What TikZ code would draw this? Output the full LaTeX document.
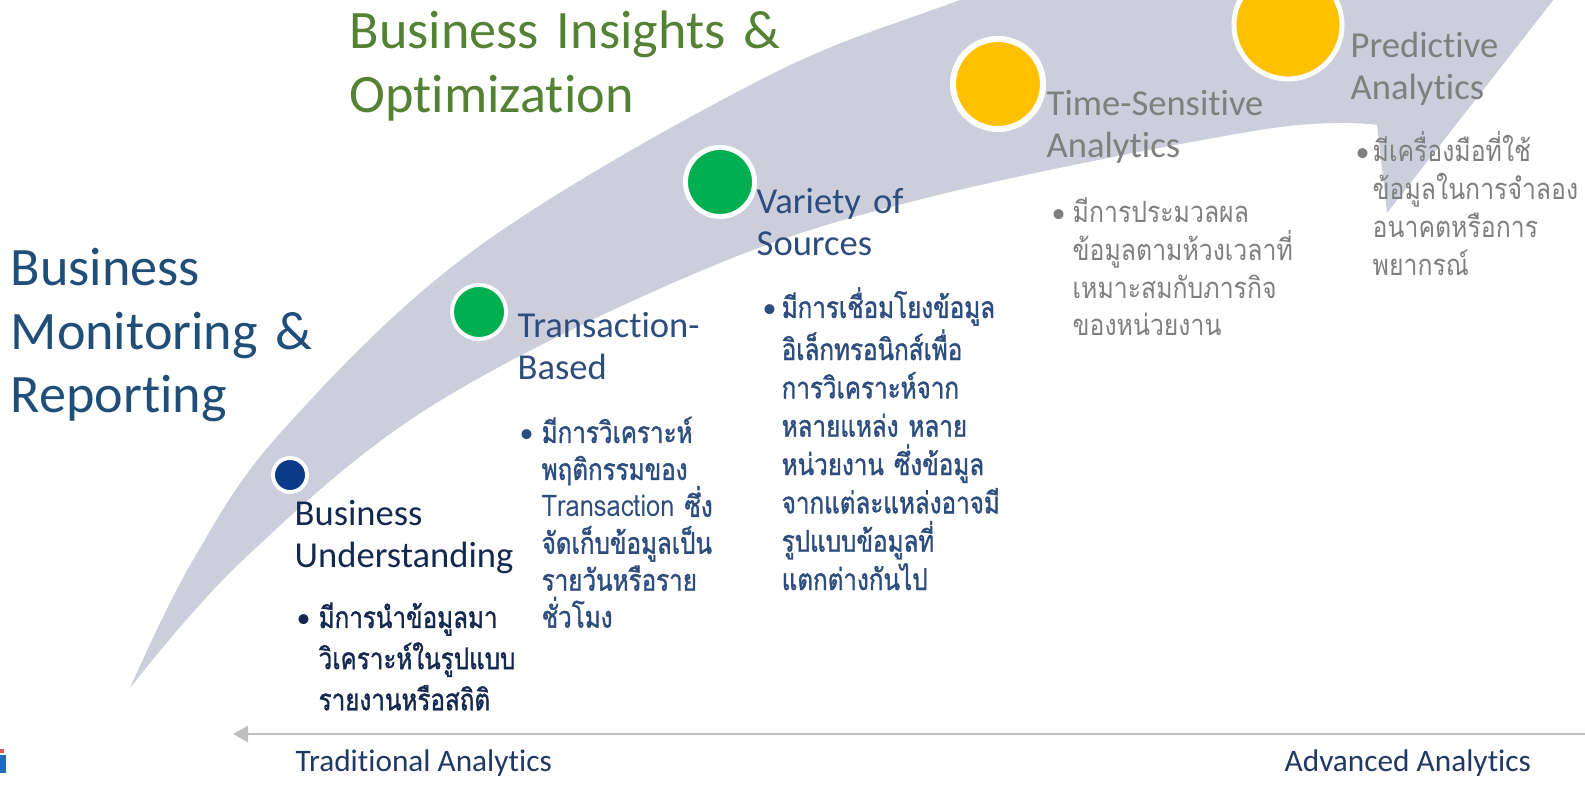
\documentclass[tikz,border=0pt]{standalone}
\usepackage{fontspec}
\setmainfont{Carlito}[Ligatures=NoCommon]
\newfontfamily\thaifont[Script=Thai, FakeStretch=0.85]{Loma}
\newfontfamily\thaibold[Script=Thai, FakeBold=1.2, FakeStretch=0.81]{Loma}
\usetikzlibrary{arrows.meta}

\definecolor{swoosh}{RGB}{204,207,219}
\definecolor{monblue}{RGB}{31,78,121}
\definecolor{insgreen}{RGB}{84,130,53}
\definecolor{navy}{RGB}{20,40,80}
\definecolor{stepblue}{RGB}{45,77,126}
\definecolor{greytxt}{RGB}{127,127,127}
\definecolor{axisnavy}{RGB}{32,56,100}
\definecolor{axisgrey}{RGB}{191,191,191}
\definecolor{dotblue}{RGB}{13,59,138}
\definecolor{dotgreen}{RGB}{0,176,80}
\definecolor{dotyellow}{RGB}{255,192,0}
\definecolor{iconblue}{RGB}{30,110,190}
\definecolor{iconred}{RGB}{230,90,90}

\begin{document}
\begin{tikzpicture}[x=0.01cm, y=-0.01cm,
    bigtitle/.style={anchor=base west, inner sep=0, text width=6cm, align=left,
                     font=\fontsize{15.4}{18}\selectfont},
    steptitle/.style={anchor=base west, inner sep=0, text width=3.5cm, align=left,
                      font=\fontsize{10.4}{11.8}\selectfont},
    thaitext/.style={anchor=base west, inner sep=0, text width=3.5cm, align=left,
                     font=\thaibold\fontsize{8.5}{#1}\selectfont},
    thaigrey/.style={thaitext=#1, font=\thaifont\fontsize{8.3}{#1}\selectfont,
                     text=greytxt},
    bullet/.style={anchor=base west, inner sep=0, font=\fontsize{8}{8}\selectfont},
    dot/.style={circle, draw=white, inner sep=0},
    axis/.style={draw=axisgrey, line width=0.85pt,
                 -{Triangle[length=0.15cm, width=0.16cm]}},
    axislabel/.style={anchor=base west, inner sep=0, text=axisnavy,
                      font=\fontsize{8.9}{10}\selectfont},
]
\useasboundingbox (0,0) rectangle (1585,786);
\clip (0,0) rectangle (1585,786);

% swoosh band
\fill[swoosh]
  plot[smooth, tension=0.6] coordinates {(130,688) (193,560) (283,430) (474,250)
                                        (760,80) (960,0) (1160,-70)}
  -- (1608,-70) -- (1387,213) -- (1377,125)
  -- plot[smooth, tension=0.6] coordinates {(1377,125) (1260,130) (930,197)
                                           (703,270) (430,407) (243,560) (130,688)}
  -- cycle;

% side titles
\node[bigtitle, text=monblue] (monitor) at (10,286) {Business\\Monitoring \&\\Reporting};
\node[bigtitle, text=insgreen] (insight) at (349,49) {Business Insights \&\\Optimization};

% dots along the swoosh
\node[dot, fill=dotblue, minimum size=0.34cm, line width=1.1pt] (d1) at (290,475) {};
\node[dot, fill=dotgreen, minimum size=0.54cm, line width=1.1pt] (d2) at (479,312) {};
\node[dot, fill=dotgreen, minimum size=0.69cm, line width=1.4pt] (d3) at (720,182) {};
\node[dot, fill=dotyellow, minimum size=0.90cm, line width=1.7pt] (d4) at (998,84) {};
\node[dot, fill=dotyellow, minimum size=1.08cm, line width=1.4pt] (d5) at (1288,25) {};

% step titles
\node[steptitle, text=navy] (t1) at (294,526) {Business\\Understanding};
\node[steptitle, text=stepblue] (t2) at (517,338) {Transaction-\\Based};
\node[steptitle, text=stepblue] (t3) at (756,214) {Variety of\\Sources};
\node[steptitle, text=greytxt] (t4) at (1046,116) {Time-Sensitive\\Analytics};
\node[steptitle, text=greytxt] (t5) at (1350,58) {Predictive\\Analytics};

% bullet texts
\node[bullet, text=navy] (b1) at (296,628) {•};
\node[thaitext=11.7, text=navy] (x1) at (318,628)
  {มีการนำข้อมูลมา\\วิเคราะห์ในรูปแบบ\\รายงานหรือสถิติ};
\node[bullet, text=stepblue] (b2) at (519,443) {•};
\node[thaitext=10.5, text=stepblue] (x2) at (541,443)
  {มีการวิเคราะห์\\พฤติกรรมของ\\{\thaifont Transaction} ซึ่ง\\จัดเก็บข้อมูลเป็น\\รายวันหรือราย\\ชั่วโมง};
\node[bullet, text=stepblue] (b3) at (762,318) {•};
\node[thaitext=10.9, text=stepblue] (x3) at (781,318)
  {มีการเชื่อมโยงข้อมูล\\อิเล็กทรอนิกส์เพื่อ\\การวิเคราะห์จาก\\หลายแหล่ง หลาย\\หน่วยงาน ซึ่งข้อมูล\\จากแต่ละแหล่งอาจมี\\รูปแบบข้อมูลที่\\แตกต่างกันไป};
\node[bullet, text=greytxt] (b4) at (1051,223) {•};
\node[thaigrey=10.7] (x4) at (1072,223)
  {มีการประมวลผล\\ข้อมูลตามห้วงเวลาที่\\เหมาะสมกับภารกิจ\\ของหน่วยงาน};
\node[bullet, text=greytxt] (b5) at (1355,162) {•};
\node[thaigrey=10.8] (x5) at (1372,162)
  {มีเครื่องมือที่ใช้\\ข้อมูลในการจำลอง\\อนาคตหรือการ\\พยากรณ์};

% axis at the bottom
\coordinate (axR) at (1585,734);
\coordinate (axL) at (233,734);
\draw[axis] (axR) -- (axL);
\node[axislabel] (trad) at (295,772) {Traditional Analytics};
\node[axislabel] (adv) at (1284,772) {Advanced Analytics};

% cut-off logo corner
\fill[iconblue] (-4,755) rectangle (6,773);
\fill[iconred] (0,749) rectangle (4,753);
\end{tikzpicture}
\end{document}
